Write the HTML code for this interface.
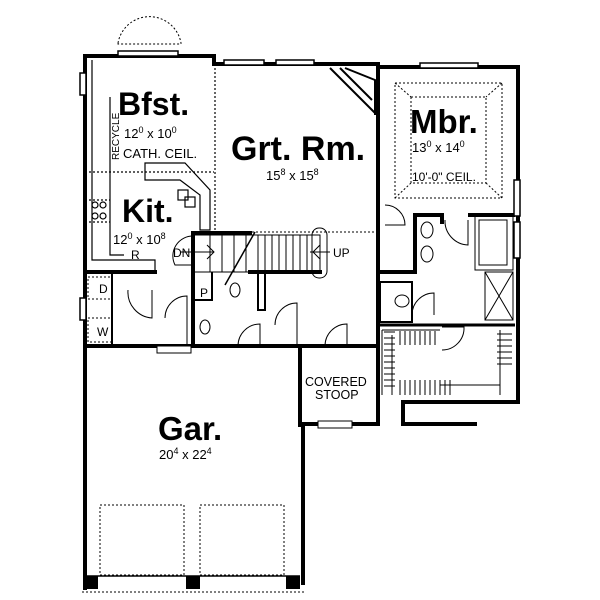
<!DOCTYPE html>
<html><head><style>html,body{margin:0;padding:0;background:#fff}svg{display:block}
text{font-family:"Liberation Sans",Arial,sans-serif;fill:#000}</style></head><body>
<svg width="600" height="600" viewBox="0 0 600 600" xmlns="http://www.w3.org/2000/svg">
<g fill="none" stroke="#000">
<path d="M118 43 A32 32 0 0 1 181 43 L181 44 L118 44 Z" stroke-dasharray="2,2" stroke-width="1"/>
<g stroke-width="4" stroke-linecap="square">
<path d="M85 57 L85 588"/>
<path d="M85 56 L214 56 L214 64 L378 64"/>
<path d="M378 67 L518 67 L518 402 L403 402 L403 424"/>
<path d="M378 64 L378 300"/>
<path d="M85 346 L378 346"/>
<path d="M300 346 L300 425"/>
<path d="M378 300 L378 424"/>
<path d="M300 424 L378 424"/>
<path d="M303 425 L303 583"/>
<path d="M193 233 L250 233"/>
<path d="M85 272 L155 272"/>
<path d="M193 233 L193 346"/>
<path d="M250 272 L320 272"/>
<path d="M380 272 L412 272"/>
<path d="M415 215 L415 272"/>
<path d="M415 215 L442 215"/>
<path d="M442 215 L442 222"/>
<path d="M470 215 L513 215"/>
</g>
<rect x="318" y="421" width="34" height="7" fill="#fff" stroke-width="1"/>
<rect x="157" y="346" width="34" height="7" fill="#fff" stroke-width="1"/>
<g stroke-width="1.5" fill="#fff">
<rect x="118" y="51" width="60" height="5"/>
<rect x="224" y="60" width="40" height="5"/>
<rect x="276" y="60" width="38" height="5"/>
<rect x="420" y="63" width="58" height="5"/>
<rect x="514" y="180" width="6" height="36"/>
<rect x="514" y="222" width="6" height="36"/>
<rect x="80" y="73" width="6" height="22"/>
<rect x="80" y="298" width="6" height="22"/>
</g>
<path d="M85 576 L300 576" stroke-width="1.5"/>
<rect x="84" y="576" width="14" height="13" fill="#000" stroke="none"/>
<rect x="186" y="576" width="14" height="13" fill="#000" stroke="none"/>
<rect x="286" y="576" width="14" height="13" fill="#000" stroke="none"/>
<rect x="100" y="505" width="84" height="70" stroke-dasharray="2,2" stroke-width="1"/>
<rect x="200" y="505" width="84" height="70" stroke-dasharray="2,2" stroke-width="1"/>
<path d="M82 592 L304 592" stroke-dasharray="2,2" stroke-width="1"/>
<path d="M403 424 L477 424" stroke-width="4"/>
<rect x="395" y="83" width="107" height="115" stroke-dasharray="2,2" stroke-width="1"/>
<rect x="411" y="97" width="75" height="86" stroke-dasharray="2,2" stroke-width="1"/>
<path d="M395 83 L411 97 M502 83 L486 97 M395 198 L411 183 M502 198 L486 183" stroke-dasharray="2,2" stroke-width="1"/>
<path d="M330 68 L375 113 M340 68 L372 100 M345 68 L375 80 L375 115" stroke-width="2"/>
<g stroke-width="1.2">
<path d="M92 60 L92 260 L155 260 L155 272"/>
<path d="M110 97 L110 255 L124 255"/>
<path d="M145 163 L185 163 L210 190 L210 230 L200 230 L200 195 L180 180 L145 180 Z"/>
<rect x="178" y="190" width="10" height="10"/>
<rect x="185" y="197" width="10" height="10"/>
<path d="M215 64 L215 232" stroke-dasharray="2,2"/>
<path d="M85 172 L214 172" stroke-dasharray="2,2"/>
<path d="M85 200 L110 200 M85 222 L110 222" stroke-dasharray="2,2"/>
<circle cx="95" cy="205" r="3"/><circle cx="103" cy="205" r="3"/>
<circle cx="95" cy="216" r="3"/><circle cx="103" cy="216" r="3"/>
</g>
<g stroke-width="1">
<rect x="193" y="235" width="127" height="37"/>
<path d="M252 232 L375 232" stroke-dasharray="2,2"/>
<path d="M258 235 L258 272 M265 235 L265 272 M272 235 L272 272 M279 235 L279 272 M286 235 L286 272 M293 235 L293 272 M300 235 L300 272 M307 235 L307 272"/>
<path d="M210 235 L210 272 M222 235 L222 272 M234 235 L234 272 M246 235 L246 272"/>
<path d="M225 285 L255 232" stroke-width="1.5"/>
<rect x="312" y="228" width="15" height="50" rx="7"/>
<path d="M180 252 L214 252 M207 245 L214 252 L207 259"/>
<path d="M310 252 L330 252 M320 245 L313 252 L320 259"/>
<path d="M193 236 A20 20 0 0 0 175 265 L193 265"/>
</g>
<g stroke-width="1">
<path d="M128 290 A26 26 0 0 0 152 318 L152 290"/>
<path d="M165 318 A22 22 0 0 1 187 296 L187 346"/>
<path d="M238 346 A22 22 0 0 1 260 324 L260 346"/>
<path d="M275 325 A22 22 0 0 1 297 303 L297 346"/>
<path d="M325 346 A22 22 0 0 1 347 324 L347 346"/>
<path d="M385 205 A20 20 0 0 1 405 225 L385 225"/>
<path d="M445 220 A24 24 0 0 0 468 245 L468 220"/>
<path d="M412 315 A22 22 0 0 1 434 293 L434 315"/>
<path d="M442 350 A22 22 0 0 0 464 327 L442 327"/>
<rect x="475" y="215" width="38" height="55"/>
<rect x="479" y="220" width="28" height="45"/>
<path d="M485 272 L513 272 L513 320 L485 320 Z M485 272 L513 320 M513 272 L485 320"/>
<path d="M380 282 L412 282 L412 322 L380 322 Z" stroke-width="2"/>
<path d="M380 325 L515 325" stroke-width="3"/>
<ellipse cx="427" cy="230" rx="6" ry="8"/><ellipse cx="427" cy="254" rx="6" ry="8"/>
<ellipse cx="402" cy="301" rx="7" ry="6"/>
<ellipse cx="235" cy="290" rx="5" ry="7"/><ellipse cx="205" cy="327" rx="5" ry="7"/>
<rect x="88" y="277" width="24" height="22" stroke-dasharray="2,2"/>
<rect x="88" y="318" width="24" height="24" stroke-dasharray="2,2"/>
<path d="M112 272 L112 346 M193 300 L212 300 L212 272 M258 272 L258 310 L265 310 L265 272" stroke-width="2"/>
</g>
<g stroke-width="1">
<path d="M382 330 L382 395 M382 330 L440 330 M392 335 L392 395 M440 385 L500 385 M500 330 L500 395" />
<path d="M384 332 L395 332 M384 338 L395 338 M384 344 L395 344 M384 350 L395 350 M384 356 L395 356 M384 362 L395 362 M384 368 L395 368 M384 374 L395 374 M384 380 L395 380 M384 386 L395 386" />
<path d="M400 331 L400 345 M405 331 L405 345 M410 331 L410 345 M415 331 L415 345 M420 331 L420 345 M425 331 L425 345 M430 331 L430 345 M435 331 L435 345"/>
<path d="M400 380 L400 395 M405 380 L405 395 M410 380 L410 395 M415 380 L415 395 M420 380 L420 395 M425 380 L425 395 M430 380 L430 395 M435 380 L435 395 M440 380 L440 395 M445 380 L445 395 M450 380 L450 395"/>
<path d="M497 334 L512 334 M497 340 L512 340 M497 346 L512 346 M497 352 L512 352 M497 358 L512 358 M497 364 L512 364"/>
</g>
</g>
<text x="118" y="115" font-size="32" font-weight="bold">Bfst.</text>
<text x="124" y="138" font-size="13">12<tspan dy="-5" font-size="9">0</tspan><tspan dy="5"> x 10</tspan><tspan dy="-5" font-size="9">0</tspan></text>
<text x="123" y="158" font-size="13">CATH. CEIL.</text>
<text x="119" y="160" font-size="10" transform="rotate(-90 119 160)">RECYCLE</text>
<text x="231" y="160" font-size="34" font-weight="bold">Grt. Rm.</text>
<text x="266" y="180" font-size="13">15<tspan dy="-5" font-size="9">8</tspan><tspan dy="5"> x 15</tspan><tspan dy="-5" font-size="9">8</tspan></text>
<text x="410" y="133" font-size="33" font-weight="bold">Mbr.</text>
<text x="412" y="152" font-size="13">13<tspan dy="-5" font-size="9">0</tspan><tspan dy="5"> x 14</tspan><tspan dy="-5" font-size="9">0</tspan></text>
<text x="412" y="181" font-size="12">10'-0" CEIL.</text>
<text x="122" y="222" font-size="32" font-weight="bold">Kit.</text>
<text x="113" y="244" font-size="13">12<tspan dy="-5" font-size="9">0</tspan><tspan dy="5"> x 10</tspan><tspan dy="-5" font-size="9">8</tspan></text>
<text x="131" y="259" font-size="12">R</text>
<text x="173" y="257" font-size="12">DN</text>
<text x="333" y="257" font-size="12">UP</text>
<text x="200" y="297" font-size="12">P</text>
<text x="99" y="293" font-size="12">D</text>
<text x="97" y="336" font-size="12">W</text>
<text x="305" y="386" font-size="12.5">COVERED</text>
<text x="315" y="399" font-size="12.5">STOOP</text>
<text x="158" y="440" font-size="33" font-weight="bold">Gar.</text>
<text x="159" y="459" font-size="13">20<tspan dy="-5" font-size="9">4</tspan><tspan dy="5"> x 22</tspan><tspan dy="-5" font-size="9">4</tspan></text>
</svg>
</body></html>
